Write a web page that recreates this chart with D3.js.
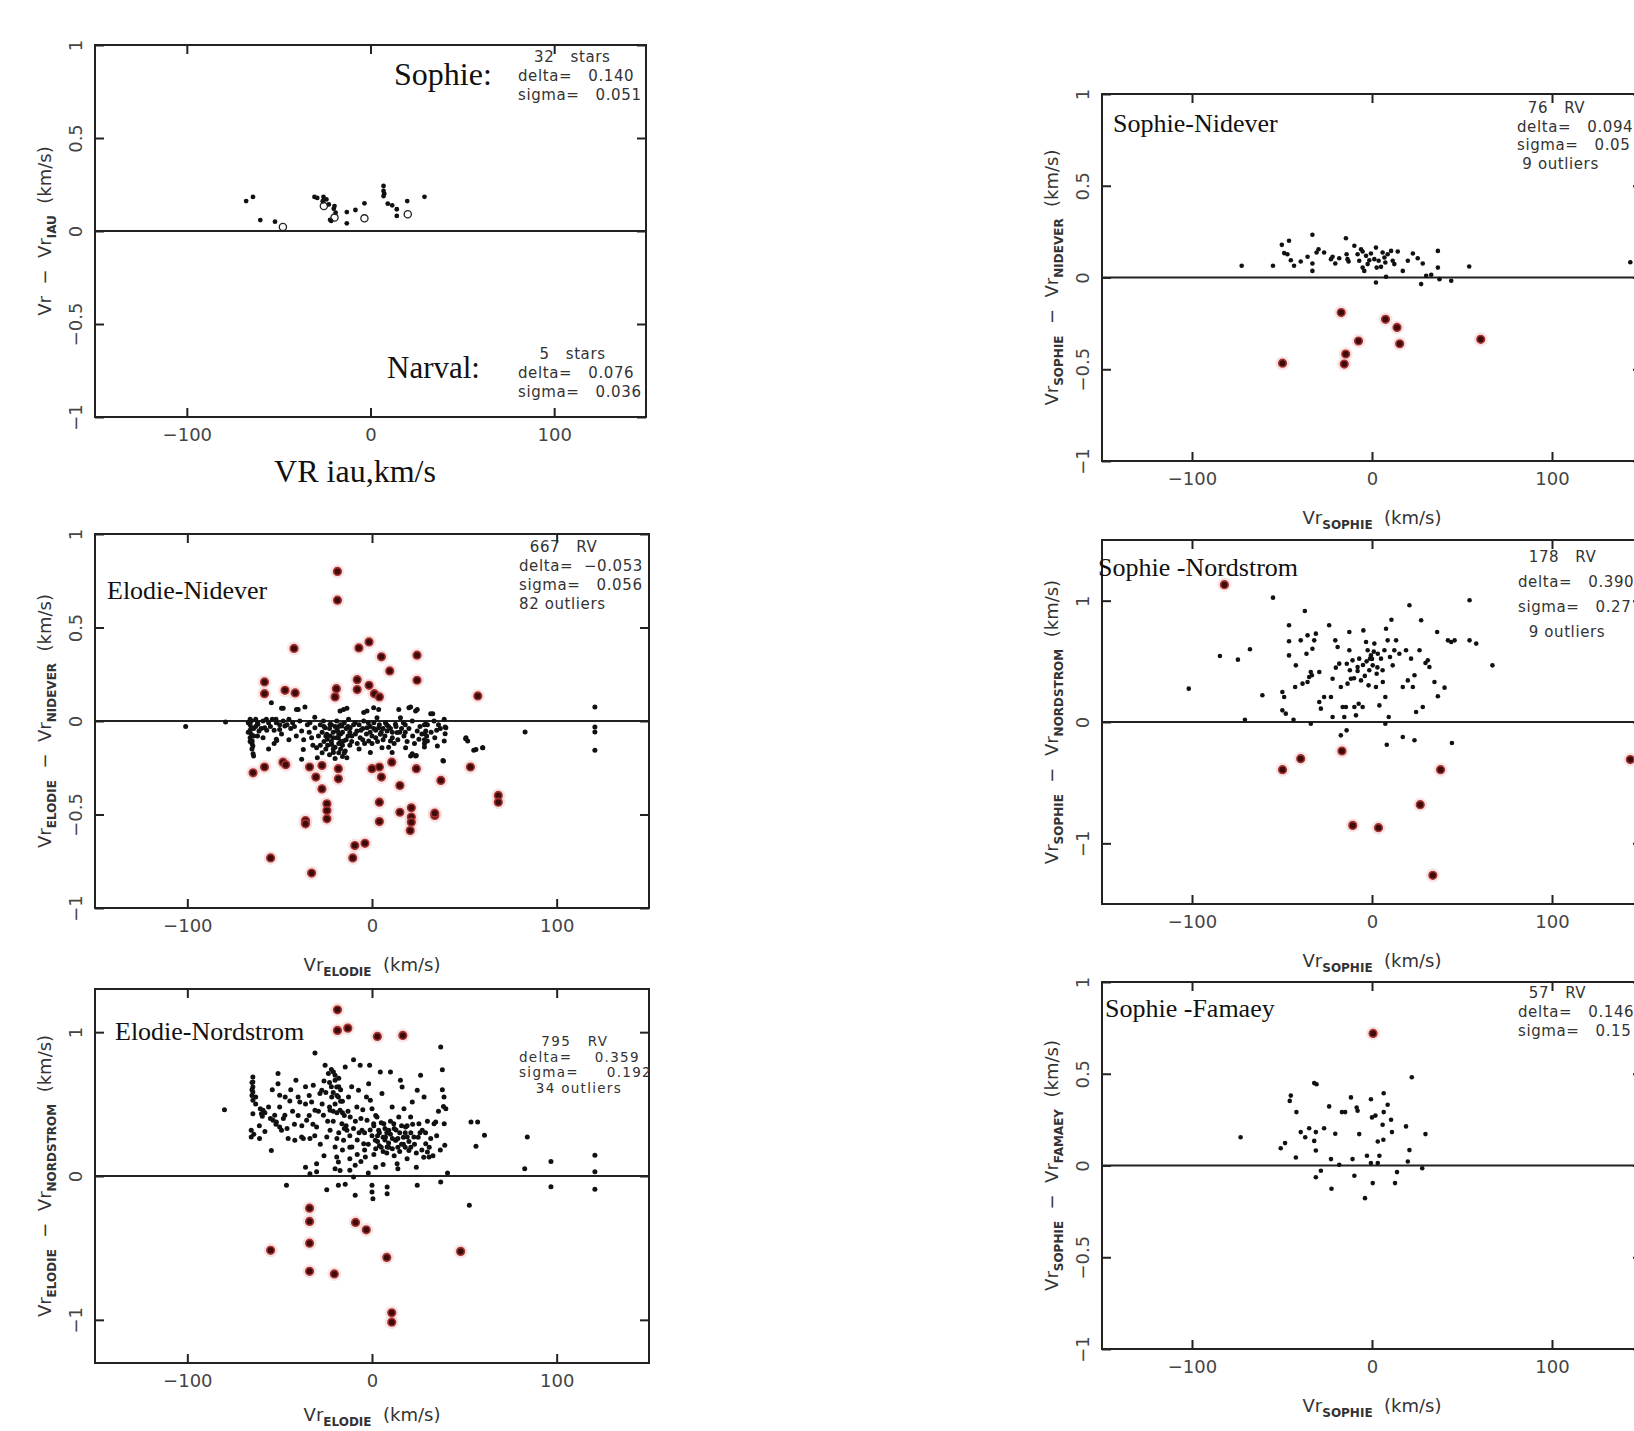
<!DOCTYPE html>
<html>
<head>
<meta charset="utf-8">
<script src="https://cdn.jsdelivr.net/npm/d3@7"></script>
<style>
  body { margin: 0; background: #fff; }
  svg text { font-family: "DejaVu Sans", sans-serif; fill: #333; }
  svg text.serif { font-family: "Liberation Serif", "Times New Roman", serif; fill: #111; }
</style>
</head>
<body>
<svg id="chart" width="1634" height="1431"></svg>
<script>
// ---- data: [Vr, delta Vr] in km/s ----
const xTicks = [-100, 0, 100];

const sophieIau = [[-67.7,0.161],[-64,0.183],[-60,0.059],[-52,0.05],[-30.5,0.183],[-29,0.178],[-25.6,0.183],
  [-26,0.16],[-24,0.17],[-22.7,0.143],[-19.6,0.134],[-20,0.12],[-19,0.098],[-21.4,0.054],[-22,0.06],
  [-12.9,0.102],[-12.9,0.041],[-8.2,0.113],[-3.3,0.149],[7.1,0.242],[7.1,0.215],[7.5,0.2],[7.1,0.188],
  [9.4,0.147],[11.8,0.138],[14.3,0.117],[14.3,0.081],[20,0.161],[29.4,0.184]];
const narvalIau = [[-47.7,0.022],[-25.4,0.134],[-19.6,0.072],[-3.3,0.068],[20.3,0.09]];

const elodieNidever = [[-65.4,0],[-65.4,-0.036],[-65.4,-0.071],[-64.9,-0.107],[-64.5,-0.134],[-64.1,-0.187],
  [-61.8,-0.018],[-61.2,-0.053],[-59,0],[-58.1,-0.036],[-57.2,0.009],[-51.8,-0.009],[-51.8,-0.098],
  [-50,-0.045],[-48.1,0],[-47.2,-0.027],[-48.1,0.068],[-40.9,0.062],[-39.1,0],[-38.1,-0.053],[-37.2,-0.152],
  [-38.1,-0.205],[-36.3,0.075],[-32.7,-0.089],[-33.6,-0.009],[-30.9,-0.036],[-30,-0.143],[-29.6,-0.196],
  [-26.3,0],[-25.4,-0.036],[-24.5,-0.071],[-24.2,-0.098],[-22.7,-0.018],[-22.7,-0.08],[-21.8,-0.125],[-20.9,-0.169],
  [-19.1,0],[-18.7,-0.053],[-18.2,-0.089],[-17.3,0.053],[-16.3,-0.027],[-15.4,-0.107],[-14.5,-0.16],[-13.6,-0.196],
  [-15.4,0.062],[-12.7,0.009],[-11.8,-0.036],[-10.9,-0.08],[-9.1,-0.009],[-8.2,-0.053],[-6.4,-0.089],[-4.5,0.045],
  [-4.5,0],[-2.7,-0.036],[-1.8,-0.107],[-0.9,-0.169],[0.9,0.071],[2.7,0.018],[3.6,-0.036],[4.5,-0.071],[5.4,-0.143],
  [7.3,-0.009],[8.2,-0.053],[10,-0.107],[10.9,-0.169],[12.7,-0.018],[13.6,-0.062],[14.5,0.062],[15.4,0.018],
  [17.3,-0.08],[18.2,-0.143],[20,0.071],[21.8,0],[23.6,0.053],[24.5,-0.053],[25.4,-0.098],[20.9,-0.187],[23.6,-0.187],
  [29.1,-0.018],[29.1,-0.053],[29.6,-0.08],[30,-0.107],[31.8,0.039],[33.6,0],[35.4,-0.134],[39.1,0.009],[40,-0.036],
  [39.1,-0.107],[38.7,-0.214],[50.9,-0.089],[51.8,-0.107],[56.3,-0.152],[59.9,-0.143],[-54.5,0.098],[-49,0.068],
  [-40,0.062],[-13.6,0.068],[-2.7,0.053],[3.6,0.062],[20.9,0.075],[24.5,0.062],
  [-100.9,-0.029],[-79.3,-0.005],[82.9,-0.059],[120.7,0.075],[120.7,-0.032],[120.7,-0.059],[120.7,-0.157],
  [50.7,-0.095],[55.1,-0.157],[60,-0.143],[39.6,-0.032],[39.6,-0.068],[38.4,-0.211],[32.9,0.039],[28.4,-0.068],
  [28.4,-0.139],[21.8,-0.175],[24,-0.184],[-64.4,-0.175],[-51.6,-0.104],
  [-66,0.01],[-66,-0.02],[-66,-0.05],[-66,-0.09],[-65,-0.12],[-65,-0.15],[-63,0.01],[-63,-0.03],[-62,-0.08],
  [-56,-0.01],[-55,-0.03],[-54,0.01],[-53,-0.05],[-46,-0.02],[-45,0.01],[-44,-0.04],[-43,-0.01],
  [-28,-0.02],[-27,-0.06],[-26,-0.11],[-25,-0.15],[-23,-0.04],[-22,-0.11],[-21,-0.06],[-20,-0.14],[-20,-0.03],
  [-19,-0.09],[-18,-0.12],[-18,-0.17],[-17,-0.02],[-17,-0.07],[-16,-0.13],[-16,-0.19],[-14,-0.04],[-13,-0.08],
  [-12,-0.13],[-7,-0.02],[-6,-0.05],[-5,-0.1],[-3,-0.07],[-1,-0.03],[0,-0.08],[1,-0.01],[2,-0.05],[3,-0.11],
  [6,-0.04],[7,-0.08],[9,-0.03],[11,-0.06],[12,-0.12],[16,-0.04],[18,-0.02],[19,-0.11],[28.4,-0.02],[28.4,-0.1],
  [28.4,-0.12],[35,-0.05],[36,-0.02],
  [-67,-0.01],[-67,-0.06],[-66,-0.11],[-64,-0.04],[-64,-0.08],[-62,-0.01],[-60,-0.04],[-59,-0.09],[-57,-0.05],
  [-52,0.01],[-50,-0.02],[-49,-0.07],[-42,-0.03],[-41,-0.08],[-35,-0.02],[-34,-0.06],[-32,-0.13],[-31,0.02],
  [-29,-0.08],[-28,-0.13],[-27,-0.17],[-26,-0.03],[-25,-0.08],[-24,-0.13],[-23,-0.18],[-22,-0.02],[-21,-0.09],
  [-21,-0.15],[-20,-0.2],[-19,-0.05],[-18,-0.03],[-18,-0.07],[-17,-0.11],[-17,-0.15],[-16,-0.06],[-15,-0.01],
  [-15,-0.17],[-14,-0.1],[-13,-0.03],[-12,-0.06],[-11,-0.11],[-10,-0.02],[-9,-0.07],[-8,-0.12],[-7,-0.15],
  [-5,-0.04],[-4,-0.12],[-2,-0.01],[-1,-0.06],[0,-0.12],[1,-0.04],[2,-0.09],[4,-0.02],[5,-0.06],[6,-0.1],[8,-0.02],
  [9,-0.14],[10,-0.04],[11,-0.09],[13,-0.03],[14,-0.1],[15,-0.06],[17,-0.01],[18,-0.06],[20,-0.04],[22,-0.08],
  [23,-0.12],[26,-0.03],[27,-0.07],[30,-0.02],[32,-0.06],[34,-0.09],[37,-0.04],[-37,-0.1],[-45,-0.1],[-53,-0.12],
  [-56,-0.15]];
const elodieNideverOut = [[-18.7,0.8],[-18.7,0.646],[-42.2,0.388],[-7.1,0.391],[-1.6,0.423],[5.1,0.343],[9.6,0.268],
  [24.4,0.352],[24.4,0.218],[-58.2,0.209],[-58.2,0.146],[-47.1,0.164],[-41.6,0.15],[-19.3,0.173],[-20,0.129],
  [-8,0.221],[-8,0.168],[-1.6,0.191],[1.3,0.146],[4,0.129],[57.3,0.134],[-64.4,-0.277],[-58.2,-0.246],[-48.2,-0.22],
  [-46.7,-0.234],[-33.8,-0.246],[-30.4,-0.3],[-27.1,-0.238],[-27.1,-0.363],[-24.4,-0.443],[-24.4,-0.479],[-24.4,-0.523],
  [-18.2,-0.255],[-18.2,-0.309],[-36,-0.532],[-36,-0.55],[0,-0.255],[4,-0.246],[5.1,-0.3],[10.7,-0.22],[15.1,-0.345],
  [4,-0.434],[4,-0.538],[15.1,-0.488],[21.3,-0.464],[21.3,-0.514],[21.3,-0.541],[20.7,-0.586],[24,-0.255],[34,-0.505],
  [34,-0.493],[37.3,-0.318],[53.3,-0.246],[68.4,-0.398],[68.4,-0.434],[-54.9,-0.732],[-32.7,-0.813],[-9.3,-0.666],
  [-3.8,-0.654],[-10.4,-0.732]];

const elodieNordstrom = [[-79.9,0.461],[-64.5,0.688],[-64.5,0.654],[-64.5,0.619],[-64.5,0.584],[-64.5,0.526],
  [-64.5,0.433],[-65.4,0.318],[-65.4,0.271],[-60.9,0.26],[-60.5,0.468],[-59.9,0.433],[-59.4,0.415],[-59,0.457],
  [-54.5,0.178],[-53.6,0.387],[-52.7,0.422],[-51.8,0.376],[-50.9,0.712],[-50.9,0.642],[-50,0.561],[-50,0.341],[-49,0.318],
  [-47.2,0.422],[-45.4,0.26],[-44.5,0.522],[-41.8,0.248],[-41.2,0.665],[-40,0.549],[-39.1,0.515],[-38.1,0.271],[-37.2,0.26],
  [-35.4,0.387],[-33.6,0.26],[-32.7,0.515],[-31.8,0.631],[-30.9,0.457],[-30.9,0.855],[-30,0.086],[-28.2,0.573],
  [-27.2,0.596],[-26.3,0.422],[-25.4,0.77],[-24.5,0.271],[-23.6,0.712],[-22.7,0.457],[-22.7,0.318],[-21.8,0.549],
  [-20.9,0.723],[-20,0.665],[-19.1,0.619],[-18.2,0.549],[-17.3,0.457],[-16.3,0.364],[-15.4,0.248],[-20,0.202],
  [-19.1,0.132],[-18.2,0.097],[-17.3,0.039],[-14.5,0.758],[-13.6,0.318],[-12.7,0.549],[-11.8,0.41],[-10.9,0.202],
  [-10,0.809],[-9.1,0.074],[-8.2,0.48],[-7.3,0.596],[-6.4,0.77],[-5.4,0.318],[-4.5,0.225],[-3.6,0.132],[-2.7,0.387],
  [-1.8,0.642],[-1.3,0.77],[-0.9,0.526],[0,0.468],[0.9,0.364],[1.8,0.248],[2.7,0.41],[3.6,0.318],[4.5,0.723],
  [5.4,0.573],[6.4,0.364],[7.3,0.271],[8.2,0.202],[9.1,0.318],[10,0.723],[10.9,0.48],[11.8,0.364],[12.7,0.248],
  [13.6,0.086],[14.5,0.41],[15.4,0.665],[16.3,0.619],[17.3,0.468],[18.2,0.341],[19.1,0.271],[20,0.178],[20.9,0.41],
  [21.8,0.515],[22.7,0.271],[24.5,0.596],[25.4,0.364],[26.3,0.7],[27.2,0.318],[28.2,0.549],[29.1,0.225],[30,0.167],
  [30.9,0.132],[31.8,0.26],[33.6,0.364],[34.5,0.376],[37.2,0.897],[38.1,0.739],[38.1,0.6],[38.7,0.484],[39.1,0.364],
  [39.4,0.213],[40,0.468],[40.9,0.021],[-46.3,-0.065],[-33.6,0.016],[-24.5,-0.095],[-18.2,-0.065],[-14.5,-0.058],
  [-10,-0.007],[-9.1,-0.134],[0,-0.065],[0,-0.111],[0.5,-0.158],[8.2,-0.076],[8.2,-0.123],[24.5,-0.065],[37.2,-0.042],
  [53.6,0.376],[57.2,0.376],[60.9,0.283],[56.3,0.206],[84.1,0.271],[82.7,0.051],[52.7,-0.204],[96.9,0.1],[96.9,-0.074],
  [120.7,0.145],[120.7,0.03],[120.7,-0.092],
  [-22,0.62],[-21,0.58],[-20,0.5],[-19,0.44],[-18,0.68],[-17,0.6],[-16,0.52],[-15,0.42],[-21,0.38],[-23,0.48],
  [-18,0.3],[-14,0.35],[-12,0.28],[-10,0.33],[-8,0.25],[-6,0.4],[-4,0.3],[-2,0.22],[0,0.28],[1,0.35],[2,0.19],
  [3,0.24],[4,0.3],[5,0.2],[6,0.27],[7,0.33],[8,0.16],[9,0.23],[10,0.29],[11,0.19],[12,0.33],[13,0.25],[14,0.2],
  [15,0.3],[16,0.22],[17,0.27],[18,0.2],[19,0.35],[21,0.3],[23,0.22],[25,0.27],[27,0.18],[29,0.3],[-63,0.55],
  [-63,0.5],[-58,0.44],[-55,0.4],[-52,0.36],[-47,0.55],[-43,0.45],[-36,0.5],[-34,0.42],[-30,0.34],[-28,0.22],
  [-26,0.14],[-12,0.12],[-6,0.1],[6,0.08],[-2,0.02],[-30,0.03],
  [-65,0.65],[-65,0.6],[-65,0.56],[-64,0.29],[-61,0.35],[-58,0.31],[-56,0.48],[-54,0.6],[-50,0.48],[-48,0.4],
  [-46,0.33],[-44,0.6],[-42,0.36],[-40,0.42],[-38,0.35],[-36,0.62],[-34,0.56],[-32,0.36],[-31,0.28],[-29,0.45],
  [-27,0.5],[-26,0.66],[-25,0.58],[-24,0.38],[-23,0.65],[-22,0.74],[-21,0.45],[-20,0.7],[-19,0.56],[-19,0.26],
  [-18,0.62],[-17,0.52],[-16,0.44],[-16,0.18],[-15,0.33],[-13,0.45],[-12,0.2],[-11,0.62],[-9,0.38],[-8,0.15],
  [-7,0.3],[-5,0.46],[-4,0.18],[-3,0.55],[-1,0.32],[1,0.15],[2,0.42],[3,0.28],[4,0.21],[5,0.37],[6,0.17],[7,0.25],
  [8,0.3],[9,0.2],[10,0.38],[11,0.26],[12,0.14],[13,0.32],[14,0.26],[15,0.17],[16,0.35],[17,0.22],[18,0.3],
  [19,0.12],[20,0.24],[21,0.2],[22,0.36],[24,0.16],[26,0.3],[28,0.13],[30,0.38],[31,0.2],[33,0.14],[35,0.28],
  [36,0.45],[37,0.18],[39,0.55],[-36,0.06],[-20,0.05],[-12,0.04],[2,0.06],[14,0.05],[24,0.06]];
const elodieNordstromOut = [[-18.7,1.155],[-18.7,1.012],[-13.1,1.028],[2.9,0.97],[16.7,0.977],[-33.8,-0.224],
  [-33.8,-0.316],[-33.8,-0.467],[-33.8,-0.663],[-54.9,-0.517],[-20.4,-0.681],[-8.9,-0.323],[-3.1,-0.374],
  [8,-0.566],[10.7,-0.951],[10.7,-1.016],[48,-0.524]];

const sophieNidever = [[-72.4,0.064],[-55,0.064],[-50.1,0.178],[-46.1,0.2],[-48.8,0.133],[-47,0.127],[-45.1,0.094],
  [-43.3,0.064],[-39.6,0.087],[-35.8,0.113],[-33.1,0.233],[-33.1,0.076],[-33.1,0.036],[-30.8,0.136],[-29.7,0.154],
  [-26.6,0.136],[-22.8,0.1],[-21.9,0.113],[-20.4,0.076],[-18.2,0.105],[-14.5,0.214],[-14.1,0.127],[-13.6,0.1],
  [-13,0.087],[-9.8,0.173],[-8,0.127],[-7.1,0.091],[-6.1,0.154],[-5.2,0.142],[-5.2,0.054],[-4.3,0.036],[-3.3,0.118],
  [-2.4,0.073],[-1.5,0.094],[-0.6,0.131],[1.3,0.1],[2.2,0.163],[2.6,0.054],[3.7,0.091],[5,0.058],[5.9,0.136],
  [6.9,0.109],[7.4,0.082],[8.7,0.127],[10.6,0.145],[11.5,0.091],[12.4,0.073],[14.3,0.142],[17.1,0.036],[19.9,0.091],
  [22.7,0.131],[25.4,0.105],[28.2,0.076],[30.1,0.009],[32.9,0.015],[36.6,0.145],[36.6,0.054],[37.5,-0.009],
  [44,-0.018],[27.3,-0.036],[2.2,-0.027],[7.8,0.004],[54,0.06],[143.5,0.083]];
const sophieNideverOut = [[-17.1,-0.191],[7.5,-0.228],[13.9,-0.272],[-7.5,-0.346],[15.4,-0.361],[60.4,-0.337],
  [-14.6,-0.417],[-15.4,-0.472],[-49.7,-0.467]];

const sophieNordstrom = [[-55,1.025],[-37.3,0.915],[-101.8,0.275],[-84.5,0.544],[-74.5,0.514],[-67.8,0.599],
  [-60.9,0.22],[-70.6,0.019],[-49.8,0.247],[-48.8,0.206],[-49.8,0.096],[-47.9,0.069],[-43.6,0.019],[-42.7,0.288],
  [-38.6,0.316],[-35.8,0.33],[-34.9,0.371],[-34,0.412],[-33.1,0.604],[-32.1,0.673],[-35.8,0.714],[-39.6,0.673],
  [-46.1,0.797],[-46.1,0.665],[-46.1,0.549],[-42.3,0.467],[-36.4,0.563],[-33.4,0.385],[-31.2,0.728],[-29.3,0.412],
  [-29.3,0.165],[-28.4,0.11],[-26.6,0.206],[-23.8,0.797],[-22.8,0.206],[-21.9,0.357],[-21.9,0.041],[-20.4,0.673],
  [-20.1,0.448],[-19.1,0.618],[-18.2,0.481],[-17.3,0.288],[-16.3,0.124],[-15.4,0.041],[-14.5,0.124],[-13.6,0.316],
  [-12.6,0.591],[-12.6,0.742],[-12.3,0.426],[-11.7,0.357],[-10.8,0.508],[-9.8,0.124],[-8.9,0.055],[-8,0.453],
  [-7.4,0.151],[-7.1,0.522],[-6.1,0.343],[-5.2,0.124],[-4.8,0.755],[-3.3,0.659],[-2.4,0.591],[-1.9,0.302],
  [-1.5,0.426],[-1.1,0.522],[-0.6,0.549],[0.4,0.467],[1.3,0.646],[2.2,0.288],[2.6,0.398],[3.2,0.563],[4.1,0.137],
  [5,0.522],[5.9,0.426],[6.9,0.591],[7.4,0.206],[7.8,0.769],[8.7,0.673],[9.3,0.041],[10,0.536],[10.8,0.843],
  [11.5,0.467],[12.4,0.591],[13.4,0.673],[15.2,0.563],[17.1,0.288],[18.9,0.591],[19.9,0.343],[20.8,0.962],
  [21.7,0.522],[22.7,0.288],[23.6,0.385],[24.5,0.082],[26.4,0.591],[27.3,0.838],[28.2,0.124],[29.7,0.486],
  [31,0.508],[31.9,0.453],[34.7,0.33],[36.2,0.742],[36.6,0.212],[40.3,0.283],[42.2,0.673],[44,0.659],[45.9,0.673],
  [54.2,1.003],[54.2,0.673],[57.9,0.646],[66.9,0.467],[-34,-0.014],[-17.3,-0.11],[-14.1,-0.069],[7.4,-0.014],
  [8.2,-0.187],[17.1,-0.124],[23.6,-0.151],[44.4,-0.173],
  [-5,0.47],[-3,0.5],[0,0.52],[-8,0.42],[3,0.45],[-14,0.48],[-4,0.38],[6,0.33],[-10,0.36],[1,0.58]];
const sophieNordstromOut = [[-82,1.132],[-49.7,-0.393],[-39.6,-0.302],[-16.7,-0.239],[38.1,-0.393],[26.8,-0.681],
  [-10.7,-0.852],[3.6,-0.871],[33.8,-1.264],[143.5,-0.31]];

const sophieFamaey = [[-73,0.154],[-50.7,0.094],[-48.3,0.122],[-42.3,0.044],[-45.1,0.381],[-45.7,0.352],[-42,0.291],
  [-39.6,0.182],[-37.1,0.154],[-34.9,0.203],[-32.1,0.449],[-30.8,0.443],[-32.1,0.134],[-31.2,0.182],[-31.2,0.082],
  [-26.6,0.203],[-23.8,0.322],[-22.8,0.035],[-20.4,0.173],[-16.7,0.291],[-14.9,0.291],[-11.7,0.371],[-10.8,0.035],
  [-8.5,0.316],[-8,0.298],[-7.1,0.171],[-2.8,0.053],[-0.6,0.361],[0,0.262],[1.9,0.272],[3.2,0.131],[4.1,0.053],
  [5.9,0.222],[6.3,0.14],[6.5,0.394],[6.5,0.291],[8.7,0.331],[10.6,0.249],[11.1,0.182],[18.9,0.213],[20.8,0.084],
  [19.9,0.022],[22.1,0.481],[29.7,0.171],[27.9,-0.015],[-28.4,-0.029],[-31.2,-0.064],[-22.5,-0.127],[-9.8,-0.056],
  [-3.9,-0.178],[0.4,-0.096],[12.8,-0.096],[13.9,-0.036],[-0.6,0.013],[3.2,0.013],[-18.2,0.004]];
const sophieFamaeyOut = [[0.6,0.72]];

// statistics printed in each panel
const statsSophie = ["   32   stars", "delta=   0.140", "sigma=   0.051"];
const statsNarval = ["    5   stars", "delta=   0.076", "sigma=   0.036"];
const statsElodieNid = ["  667   RV", "delta=  \u22120.053", "sigma=   0.056", "82 outliers"];
const statsElodieNor = ["    795   RV", "delta=    0.359", "sigma=     0.192", "   34 outliers"];
const statsSophieNid = ["  76   RV", "delta=   0.094", "sigma=   0.05", " 9 outliers"];
const statsSophieNor = ["  178   RV", "delta=   0.390", "sigma=   0.27", "  9 outliers"];
const statsSophieFam = ["  57   RV", "delta=   0.146", "sigma=   0.15"];

// ---- layout ----
const svg = d3.select("#chart");
const fmt = d3.format("");

const panels = [
  { box: [95, 45, 646, 417], yDom: [-1, 1], yTicks: [-1, -0.5, 0, 0.5, 1],
    ytitle: [["Vr  \u2212  Vr", 0], ["IAU", 1], ["  (km/s)", 0]], xtitle: null, xtY: 0, r: 2.4,
    dots: sophieIau, rings: narvalIau, out: [],
    stats: [{ x: 518, y: 62, dy: 19, fs: 15, ls: 0.6, lines: statsSophie }, { x: 518, y: 359, dy: 19, fs: 15, ls: 0.6, lines: statsNarval }],
    labels: [{ t: "Sophie:", x: 394, y: 85, s: 32 }, { t: "Narval:", x: 387, y: 378, s: 31 }] },
  { box: [95, 534, 649, 908], yDom: [-1, 1], yTicks: [-1, -0.5, 0, 0.5, 1],
    ytitle: [["Vr", 0], ["ELODIE", 1], ["  \u2212  Vr", 0], ["NIDEVER", 1], ["  (km/s)", 0]], xtitle: "ELODIE", xtY: 63, r: 2.5,
    dots: elodieNidever, rings: [], out: elodieNideverOut,
    stats: [{ x: 519, y: 552, dy: 19, fs: 15, ls: 0.6, lines: statsElodieNid }],
    labels: [{ t: "Elodie-Nidever", x: 107, y: 599, s: 26 }] },
  { box: [95, 989, 649, 1363], yDom: [-1.3, 1.3], yTicks: [-1, 0, 1],
    ytitle: [["Vr", 0], ["ELODIE", 1], ["  \u2212  Vr", 0], ["NORDSTROM", 1], ["  (km/s)", 0]], xtitle: "ELODIE", xtY: 58, r: 2.5,
    dots: elodieNordstrom, rings: [], out: elodieNordstromOut,
    stats: [{ x: 519, y: 1046, dy: 15.5, fs: 13.5, ls: 1.3, lines: statsElodieNor }],
    labels: [{ t: "Elodie-Nordstrom", x: 115, y: 1040, s: 26 }] },
  { box: [1102, 94, 1642, 461], yDom: [-1, 1], yTicks: [-1, -0.5, 0, 0.5, 1],
    ytitle: [["Vr", 0], ["SOPHIE", 1], ["  \u2212  Vr", 0], ["NIDEVER", 1], ["  (km/s)", 0]], xtitle: "SOPHIE", xtY: 63, r: 2.3,
    dots: sophieNidever, rings: [], out: sophieNideverOut,
    stats: [{ x: 1517, y: 113, dy: 18.5, fs: 15, ls: 0.6, lines: statsSophieNid }],
    labels: [{ t: "Sophie-Nidever", x: 1113, y: 132, s: 26 }] },
  { box: [1102, 540, 1642, 904], yDom: [-1.5, 1.5], yTicks: [-1, 0, 1],
    ytitle: [["Vr", 0], ["SOPHIE", 1], ["  \u2212  Vr", 0], ["NORDSTROM", 1], ["  (km/s)", 0]], xtitle: "SOPHIE", xtY: 63, r: 2.3,
    dots: sophieNordstrom, rings: [], out: sophieNordstromOut,
    stats: [{ x: 1518, y: 562, dy: 25, fs: 15, ls: 0.6, lines: statsSophieNor }],
    labels: [{ t: "Sophie -Nordstrom", x: 1098, y: 576, s: 26 }] },
  { box: [1102, 982, 1642, 1349], yDom: [-1, 1], yTicks: [-1, -0.5, 0, 0.5, 1],
    ytitle: [["Vr", 0], ["SOPHIE", 1], ["  \u2212  Vr", 0], ["FAMAEY", 1], ["  (km/s)", 0]], xtitle: "SOPHIE", xtY: 63, r: 2.3,
    dots: sophieFamaey, rings: [], out: sophieFamaeyOut,
    stats: [{ x: 1518, y: 998, dy: 19, fs: 15, ls: 0.6, lines: statsSophieFam }],
    labels: [{ t: "Sophie -Famaey", x: 1105, y: 1017, s: 26 }] }
];

// rich text with subscripts, flag 1 = subscript
function addParts(text, parts) {
  let sub = 0;
  parts.forEach(([t, s]) => {
    const dy = s === sub ? 0 : (s ? 5 : -5);
    const ts = text.append("tspan").text(t).attr("dy", dy);
    if (s) ts.attr("font-size", 12).attr("font-weight", "bold");
    sub = s;
  });
}

function drawPanel(p) {
  const [x0, y0, x1, y1] = p.box;
  const x = d3.scaleLinear().domain([-150, 150]).range([x0, x1]);
  const y = d3.scaleLinear().domain(p.yDom).range([y1, y0]);
  const g = svg.append("g");

  // axes, ticks point inwards
  const bottom = g.append("g").attr("transform", `translate(0,${y1})`)
    .call(d3.axisBottom(x).tickValues(xTicks).tickSize(-9).tickSizeOuter(0).tickFormat(fmt));
  bottom.selectAll("text").attr("y", 24).attr("dy", null);
  g.append("g").attr("transform", `translate(0,${y0})`)
    .call(d3.axisTop(x).tickValues(xTicks).tickSize(-9).tickSizeOuter(0).tickFormat(""));
  const left = g.append("g").attr("transform", `translate(${x0},0)`)
    .call(d3.axisLeft(y).tickValues(p.yTicks).tickSize(-9).tickSizeOuter(0).tickFormat(fmt));
  left.selectAll("text").attr("x", 0).attr("dy", null).attr("text-anchor", "middle")
    .attr("transform", "translate(-13,0) rotate(-90)");
  g.append("g").attr("transform", `translate(${x1},0)`)
    .call(d3.axisRight(y).tickValues(p.yTicks).tickSize(-9).tickSizeOuter(0).tickFormat(""));
  g.selectAll(".domain").remove();
  g.selectAll(".tick line").attr("stroke", "#222").attr("stroke-width", 2);
  g.selectAll(".tick text").attr("font-size", 18).attr("font-family", null).style("fill", "#444");

  // frame and zero line
  g.append("rect").attr("x", x0).attr("y", y0).attr("width", x1 - x0).attr("height", y1 - y0)
    .attr("fill", "none").attr("stroke", "#222").attr("stroke-width", 2);
  g.append("line").attr("x1", x0).attr("x2", x1).attr("y1", y(0)).attr("y2", y(0))
    .attr("stroke", "#222").attr("stroke-width", 2);

  // y title
  const yt = g.append("text").attr("font-size", 18).attr("text-anchor", "middle")
    .style("white-space", "pre")
    .attr("transform", `translate(${x0 - 44},${(y0 + y1) / 2}) rotate(-90)`);
  addParts(yt, p.ytitle);

  // x title
  if (p.xtitle) {
    const xt = g.append("text").attr("font-size", 18).attr("text-anchor", "middle")
      .style("white-space", "pre").attr("x", (x0 + x1) / 2).attr("y", y1 + p.xtY);
    addParts(xt, [["Vr", 0], [p.xtitle, 1], ["  (km/s)", 0]]);
  }

  // points
  g.append("g").selectAll("circle").data(p.dots).join("circle")
    .attr("cx", d => x(d[0])).attr("cy", d => y(d[1])).attr("r", p.r).attr("fill", "#111");
  g.append("g").selectAll("circle").data(p.rings).join("circle")
    .attr("cx", d => x(d[0])).attr("cy", d => y(d[1])).attr("r", 3.6)
    .attr("fill", "none").attr("stroke", "#222").attr("stroke-width", 1.3);
  const og = g.append("g");
  og.selectAll("circle.halo").data(p.out).join("circle").attr("class", "halo")
    .attr("cx", d => x(d[0])).attr("cy", d => y(d[1])).attr("r", 7)
    .attr("fill", "#f2c4c4").attr("opacity", 0.45);
  og.selectAll("circle.core").data(p.out).join("circle").attr("class", "core")
    .attr("cx", d => x(d[0])).attr("cy", d => y(d[1])).attr("r", 3.8)
    .attr("fill", "#3d0a0a").attr("stroke", "#a83232").attr("stroke-width", 1.6);

  // statistics
  p.stats.forEach(b => {
    g.append("g").selectAll("text").data(b.lines).join("text")
      .attr("x", b.x).attr("y", (d, i) => b.y + i * b.dy)
      .attr("font-size", b.fs).attr("letter-spacing", b.ls)
      .style("white-space", "pre").text(d => d);
  });

  // panel names
  p.labels.forEach(l => {
    g.append("text").attr("class", "serif").attr("x", l.x).attr("y", l.y)
      .attr("font-size", l.s).text(l.t);
  });
}

panels.forEach(drawPanel);

// x title of the first panel
svg.append("text").attr("class", "serif").attr("x", 355).attr("y", 482)
  .attr("font-size", 32).attr("text-anchor", "middle").text("VR iau,km/s");
</script>
</body>
</html>
